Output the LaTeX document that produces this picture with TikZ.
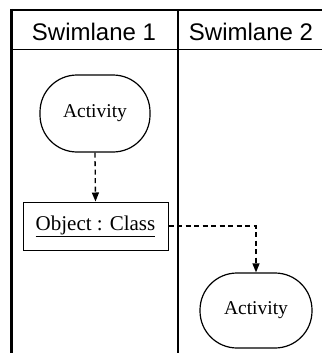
\documentclass[tikz,border=0pt]{standalone}
\usepackage{fontspec}
\setmainfont{Liberation Serif}
\newfontfamily\hdrfont{Liberation Sans}
\usetikzlibrary{arrows.meta}
\begin{document}
\begin{tikzpicture}[x=1pt,y=-1pt,
  activity/.style={draw,line width=1.2pt,rounded corners=37pt,inner sep=0pt,
    font=\fontsize{19.5}{22}\selectfont},
  objbox/.style={draw,line width=1pt,inner sep=0pt,font=\fontsize{21}{24}\selectfont},
  hdr/.style={font=\hdrfont\fontsize{24}{28}\selectfont,inner sep=0pt},
  flow/.style={line width=1.3pt,dash pattern=on 5pt off 3.5pt,
    -{Triangle[width=7pt,length=9pt]}}]
\useasboundingbox (0,0) rectangle (322,353);
% frame
\draw[line width=3pt] (11.5,9) -- (11.5,353);
\draw[line width=2pt] (10,10) -- (322,10);
\draw[line width=1pt] (10,50) -- (322,50);
\draw[line width=1.5pt] (178,10) -- (178,353);
% headers
\node[hdr] (h1) at (94,32) {Swimlane 1};
\node[hdr] (h2) at (251,32) {Swimlane 2};
% nodes
\node[activity,minimum width=110pt,minimum height=77pt] (a1) at (95,113.5) {Activity};
\node[objbox,minimum width=145pt,minimum height=48pt] (obj) at (95.5,226) {\underline{Object : Class}};
\node[activity,minimum width=112pt,minimum height=75pt] (a2) at (256,310.5) {Activity};
% connectors
\draw[flow] (a1.south) -- (obj.north);
\draw[flow] (obj.east) -| (a2.north);
\end{tikzpicture}
\end{document}
